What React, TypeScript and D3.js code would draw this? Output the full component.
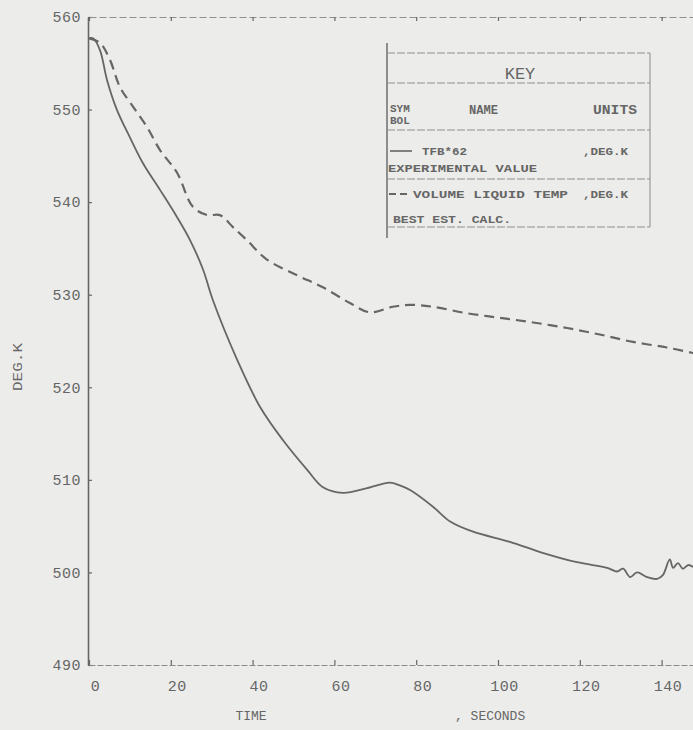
import { useEffect, useRef } from "react";
import * as d3 from "d3";

// experimental value TFB*62 (seconds, deg K)
const expTime = [0, 1, 2.7, 4.4, 6.8, 10, 13.2, 17.4, 21.5, 24.7, 27.9, 30.3, 36.2, 41.8, 47.4, 53.3, 57.2, 62.1, 68, 73.6, 76, 78.5, 84.1, 88.3, 93.9, 102.9, 110.3, 119.3, 126.7, 129.1, 130.6, 132.3, 134, 136.4, 138.9, 140.3, 142, 142.8, 144, 145.2, 146.5, 147.7];
const expTemp = [557.7, 557.7, 556.4, 553.2, 550.0, 547.0, 544.2, 541.3, 538.4, 535.9, 532.7, 529.4, 523.0, 517.9, 514.3, 511.1, 509.2, 508.6, 509.1, 509.7, 509.4, 508.9, 507.1, 505.5, 504.4, 503.3, 502.2, 501.1, 500.5, 500.1, 500.4, 499.5, 500.0, 499.5, 499.3, 499.7, 501.4, 500.5, 501.0, 500.4, 500.8, 500.6];

// best estimate calculation, volume liquid temp
const calcTime = [0, 2.7, 5.1, 7.6, 10.8, 14.2, 17.4, 21.5, 25.4, 28.9, 32, 35.2, 38.6, 43.5, 50.9, 57.2, 63.8, 68.7, 74.3, 78.5, 84.1, 92.4, 100.5, 108.6, 116.9, 124.9, 133, 141.3, 147.7];
const calcTemp = [557.7, 557.2, 555.4, 552.4, 550.3, 548.1, 545.6, 543.2, 539.5, 538.6, 538.6, 537.3, 535.9, 533.8, 532.1, 530.8, 529.1, 528.1, 528.7, 528.9, 528.7, 528.0, 527.5, 527.0, 526.4, 525.7, 524.9, 524.3, 523.7];

const xTicks = [0, 20, 40, 60, 80, 100, 120, 140];
const yTicks = [490, 500, 510, 520, 530, 540, 550, 560];

const keyHeader = ["SYM", "BOL", "NAME", "UNITS"];
const keyNames = ["TFB*62", "VOLUME LIQUID TEMP"];
const keyDescs = ["EXPERIMENTAL VALUE", "BEST EST. CALC."];
const keyUnits = [",DEG.K", ",DEG.K"];

const INK = "#666666";
const FONT = "'Liberation Mono', 'DejaVu Sans Mono', monospace";

export default function App() {
  const ref = useRef<SVGSVGElement>(null);

  const W = 693, H = 730;
  const x = d3.scaleLinear().domain([0, 150]).range([89, 89 + 150 * 4.09]);
  const y = d3.scaleLinear().domain([490, 560]).range([665, 17]);

  useEffect(() => {
    const svg = d3.select(ref.current);
    svg.selectAll("g.axis").remove();

    const left = svg.append("g").attr("class", "axis").attr("transform", `translate(${x(0) - 1},0)`)
      .call(d3.axisLeft(y).tickValues(yTicks).tickSize(-4).tickSizeOuter(0).tickPadding(7));
    left.select(".domain").attr("stroke", INK).attr("stroke-width", 1.6);

    const bottom = svg.append("g").attr("class", "axis").attr("transform", `translate(0,${y(490)})`)
      .call(d3.axisBottom(x).tickValues(xTicks).tickSize(-5).tickSizeOuter(0).tickPadding(15));
    bottom.select(".domain").attr("stroke", "#8a8a8a").attr("stroke-dasharray", "6,2");

    const top = svg.append("g").attr("class", "axis").attr("transform", `translate(0,${y(560)})`)
      .call(d3.axisTop(x).tickValues(xTicks).tickSize(-4).tickSizeOuter(0).tickFormat(() => ""));
    top.select(".domain").attr("stroke", "#8f8f8f").attr("stroke-dasharray", "7,3");

    svg.selectAll("g.axis .tick line").attr("stroke", INK).attr("stroke-width", 1.2);
    svg.selectAll("g.axis text")
      .attr("fill", INK)
      .style("font-family", FONT)
      .style("font-size", "15px")
      .style("letter-spacing", "0.5px");
    bottom.selectAll("text").attr("dx", 6);
  }, []);

  const line = d3.line<[number, number]>().x(d => x(d[0])).y(d => y(d[1])).curve(d3.curveCatmullRom);
  const expPath = line(expTime.map((t, i) => [t, expTemp[i]]))!;
  const calcPath = line(calcTime.map((t, i) => [t, calcTemp[i]]))!;

  const lx = 387, rx = 650;
  const rows = [53, 83, 130, 179, 227];
  const txt = { fill: INK, fontFamily: FONT, fontSize: 12, fontWeight: 700 } as const;

  return (
    <svg ref={ref} width={W} height={H} style={{ position: "absolute", left: 0, top: 0, background: "#ececea" }}>
      <rect width={W} height={H} fill="#ececea" />
      <defs>
        <clipPath id="plot"><rect x={x(0)} y={0} width={W - x(0)} height={y(490)} /></clipPath>
      </defs>
      <g clipPath="url(#plot)" fill="none">
        <path d={calcPath} stroke={INK} strokeWidth={2.2} strokeDasharray="10,6" />
        <path d={expPath} stroke={INK} strokeWidth={1.8} />
      </g>

      {/* key box */}
      <g>
        <rect x={lx} y={rows[0]} width={rx - lx} height={rows[4] - rows[0]} fill="#ececea" stroke="none" />
        <line x1={lx} x2={lx} y1={43} y2={238} stroke={INK} strokeWidth={1.4} />
        <line x1={rx} x2={rx} y1={rows[0]} y2={rows[4]} stroke="#8a8a8a" strokeWidth={1} />
        {rows.map((r, i) => (
          <line key={i} x1={lx} x2={rx} y1={r} y2={r} stroke="#8f8f8f" strokeWidth={1} strokeDasharray="8,2" />
        ))}
        <text x={520} y={79} textAnchor="middle" {...txt} fontWeight={400} fontSize={17}>KEY</text>
        <text x={390} y={112} {...txt} fontSize={11}>{keyHeader[0]}</text>
        <text x={390} y={124} {...txt} fontSize={11}>{keyHeader[1]}</text>
        <text x={469} y={114} {...txt} fontSize={12} textLength={29} lengthAdjust="spacingAndGlyphs">{keyHeader[2]}</text>
        <text x={593} y={114} {...txt} fontSize={13} textLength={44} lengthAdjust="spacingAndGlyphs">{keyHeader[3]}</text>

        <line x1={390} x2={412} y1={151} y2={151} stroke={INK} strokeWidth={1.6} />
        <text x={422} y={155} {...txt} fontSize={10} textLength={45} lengthAdjust="spacingAndGlyphs">{keyNames[0]}</text>
        <text x={583} y={155} {...txt} fontSize={10} textLength={45} lengthAdjust="spacingAndGlyphs">{keyUnits[0]}</text>
        <text x={388} y={172} {...txt} fontSize={10} textLength={149} lengthAdjust="spacingAndGlyphs">{keyDescs[0]}</text>

        <line x1={389} x2={409} y1={194} y2={194} stroke={INK} strokeWidth={2} strokeDasharray="7,4" />
        <text x={413} y={198} {...txt} fontSize={10} textLength={155} lengthAdjust="spacingAndGlyphs">{keyNames[1]}</text>
        <text x={583} y={198} {...txt} fontSize={10} textLength={45} lengthAdjust="spacingAndGlyphs">{keyUnits[1]}</text>
        <text x={393} y={223} {...txt} fontSize={10} textLength={118} lengthAdjust="spacingAndGlyphs">{keyDescs[1]}</text>
      </g>

      <text transform="translate(22,367) rotate(-90)" textAnchor="middle" {...txt} fontWeight={400} fontSize={13} textLength={48} lengthAdjust="spacingAndGlyphs">DEG.K</text>
      <text x={251} y={720} textAnchor="middle" {...txt} fontWeight={400} fontSize={13}>TIME</text>
      <text x={455} y={720} {...txt} fontWeight={400} fontSize={13}>, SECONDS</text>
    </svg>
  );
}
